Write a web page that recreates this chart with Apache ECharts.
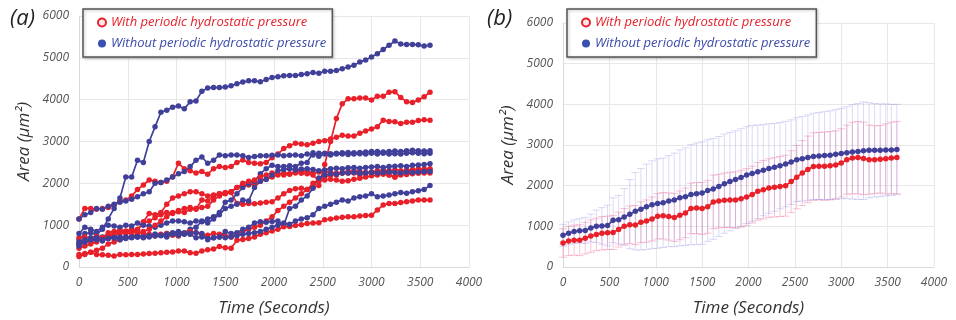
<!DOCTYPE html>
<html>
<head>
<meta charset="utf-8">
<script src="https://cdn.jsdelivr.net/npm/echarts@6/dist/echarts.min.js"></script>
<style>
  html, body { margin: 0; padding: 0; background: #fff; }
  #chart { width: 956px; height: 320px; }
</style>
</head>
<body>
<div id="chart"></div>
<script>
var RED = '#e8202a';
var BLUE = '#40409a';
var WITH = 'With periodic hydrostatic pressure';
var WITHOUT = 'Without periodic hydrostatic pressure';
var FONT = '"Open Sans", "Noto Sans", sans-serif';

var times = [0, 60, 120, 180, 240, 300, 360, 420, 480, 540, 600,
    660, 720, 780, 840, 900, 960, 1020, 1080, 1140, 1200,
    1260, 1320, 1380, 1440, 1500, 1560, 1620, 1680, 1740, 1800,
    1860, 1920, 1980, 2040, 2100, 2160, 2220, 2280, 2340, 2400,
    2460, 2520, 2580, 2640, 2700, 2760, 2820, 2880, 2940, 3000,
    3060, 3120, 3180, 3240, 3300, 3360, 3420, 3480, 3540, 3600];

// (a) individual cells, with pressure
var red1 = [550, 600, 620, 650, 700, 720, 760, 800, 850, 870, 900,
    1050, 1100, 1180, 1250, 1300, 1280, 1350, 1400, 1420, 1380,
    1600, 1580, 1700, 1750, 1760, 1780, 1520, 1500, 1520, 1510,
    1530, 1550, 1560, 1650, 1750, 1830, 1870, 1880, 1850, 1900,
    1950, 2450, 3000, 3550, 3900, 4020, 4020, 4040, 4040, 3990,
    4080, 4080, 4180, 4190, 4050, 3950, 3930, 3990, 4070, 4180];
var red2 = [1150, 1400, 1400, 1380, 1400, 1420, 1480, 1580, 1600, 1700, 1850,
    1960, 2080, 2050, 2020, 2050, 2160, 2480, 2350, 2300, 2250,
    2280, 2220, 2350, 2400, 2380, 2400, 2500, 2560, 2500, 2480,
    2470, 2500, 2610, 2700, 2830, 2900, 2960, 2940, 2920, 2960,
    3000, 3020, 3060, 3100, 3150, 3130, 3130, 3200, 3250, 3300,
    3350, 3510, 3480, 3470, 3430, 3460, 3460, 3500, 3520, 3510];
var red3 = [700, 720, 680, 750, 700, 820, 850, 880, 860, 900, 880,
    1080, 1280, 1250, 1300, 1500, 1650, 1700, 1750, 1800, 1800,
    1750, 1700, 1720, 1750, 1780, 1800, 1900, 1950, 1960, 1980,
    2050, 2100, 2150, 2200, 2250, 2230, 2280, 2300, 2280, 2250,
    2270, 2280, 2260, 2240, 2250, 2280, 2300, 2280, 2260, 2270,
    2300, 2310, 2300, 2320, 2300, 2310, 2330, 2340, 2340, 2350];
var red4 = [250, 300, 350, 400, 450, 550, 600, 650, 700, 720, 800,
    850, 900, 1000, 1100, 1200, 1300, 1320, 1300, 1380, 1400,
    1420, 1450, 1600, 1700, 1750, 1800, 1900, 2000, 2050, 2080,
    2150, 2200, 2250, 2230, 2200, 2220, 2250, 2240, 2230, 2200,
    2050, 2080, 2100, 2080, 2050, 2060, 2100, 2120, 2150, 2180,
    2200, 2220, 2200, 2150, 2200, 2210, 2230, 2240, 2250, 2250];
var red5 = [450, 500, 550, 600, 700, 750, 800, 850, 800, 820, 850,
    800, 780, 750, 780, 800, 760, 740, 800, 850, 820,
    780, 760, 800, 780, 750, 720, 800, 850, 900, 950,
    1000, 1100, 1200, 1350, 1450, 1550, 1650, 1750, 1850, 2000,
    2100, 2150, 2200, 2200, 2250, 2250, 2250, 2200, 2250, 2250,
    2260, 2250, 2200, 2150, 2260, 2280, 2300, 2300, 2300, 2320];
var red6 = [300, 320, 350, 300, 290, 280, 260, 300, 290, 300, 300,
    310, 320, 330, 340, 350, 360, 380, 380, 340, 330,
    380, 410, 430, 490, 460, 450, 640, 660, 680, 720,
    780, 820, 860, 900, 960, 970, 990, 1010, 1040, 1050,
    1060, 1130, 1150, 1170, 1190, 1200, 1200, 1220, 1230, 1240,
    1360, 1480, 1520, 1520, 1540, 1560, 1580, 1600, 1600, 1600];

// (a) individual cells, without pressure
var blue1 = [650, 800, 820, 780, 900, 1150, 1400, 1650, 2150, 2150, 2550,
    2500, 3000, 3350, 3700, 3750, 3820, 3850, 3780, 3950, 3970,
    4200, 4280, 4290, 4290, 4300, 4330, 4380, 4420, 4450, 4450,
    4430, 4480, 4530, 4550, 4570, 4580, 4580, 4600, 4620, 4650,
    4630, 4680, 4680, 4700, 4740, 4780, 4820, 4900, 4950, 5020,
    5100, 5200, 5300, 5400, 5330, 5320, 5320, 5310, 5280, 5300];
var blue2 = [1150, 1250, 1300, 1400, 1380, 1450, 1500, 1550, 1580, 1620, 1680,
    1750, 1800, 2000, 2020, 2080, 2150, 2230, 2280, 2400, 2550,
    2630, 2480, 2550, 2680, 2660, 2680, 2680, 2660, 2620, 2640,
    2660, 2660, 2670, 2680, 2660, 2670, 2680, 2660, 2700, 2680,
    2720, 2720, 2710, 2720, 2730, 2740, 2730, 2740, 2750, 2760,
    2760, 2750, 2760, 2770, 2760, 2780, 2790, 2780, 2770, 2780];
var blue3 = [800, 950, 900, 850, 950, 1000, 980, 950, 1000, 980, 1050,
    1000, 980, 950, 1000, 1050, 1100, 1100, 1080, 1050, 1100,
    1080, 1150, 1200, 1300, 1550, 1600, 1750, 1900, 1990, 2050,
    2230, 2350, 2430, 2400, 2400, 2420, 2400, 2480, 2500, 2730,
    2650, 2700, 2680, 2700, 2700, 2690, 2700, 2710, 2700, 2720,
    2700, 2720, 2700, 2710, 2700, 2720, 2730, 2720, 2710, 2720];
var blue4 = [600, 650, 700, 680, 720, 700, 700, 720, 700, 730, 720,
    750, 740, 780, 760, 800, 820, 850, 820, 900, 950,
    1100, 1050, 1150, 1250, 1400, 1450, 1500, 1600, 1580, 1900,
    2050, 2100, 2200, 2300, 2330, 2350, 2320, 2340, 2350, 2330,
    2300, 2320, 2350, 2360, 2350, 2370, 2380, 2360, 2380, 2390,
    2400, 2380, 2400, 2410, 2420, 2400, 2430, 2440, 2450, 2470];
var blue5 = [550, 600, 650, 650, 620, 680, 700, 700, 720, 710, 730,
    720, 750, 780, 760, 780, 800, 820, 800, 780, 700,
    720, 680, 700, 720, 850, 800, 820, 900, 950, 1050,
    1080, 1070, 1090, 1100, 1000, 1400, 1450, 1600, 1700, 1880,
    2130, 2200, 2230, 2220, 2250, 2250, 2260, 2240, 2250, 2260,
    2250, 2260, 2270, 2260, 2250, 2270, 2260, 2270, 2280, 2280];
var blue6 = [500, 600, 650, 700, 650, 680, 700, 650, 680, 700, 720,
    700, 720, 740, 750, 720, 780, 760, 780, 800, 820,
    800, 650, 700, 720, 700, 720, 750, 780, 800, 820,
    850, 900, 950, 1000, 1050, 1020, 1100, 1150, 1180, 1250,
    1400, 1450, 1500, 1550, 1600, 1580, 1650, 1680, 1700, 1750,
    1680, 1700, 1720, 1750, 1780, 1760, 1800, 1820, 1850, 1950];

// (b) mean and standard deviation
var redMean = [590, 640, 660, 660, 710, 760, 800, 830, 840, 850, 920,
    1000, 1040, 1030, 1100, 1130, 1180, 1250, 1260, 1240, 1220,
    1270, 1330, 1440, 1450, 1440, 1480, 1600, 1620, 1640, 1650,
    1650, 1680, 1720, 1780, 1860, 1900, 1940, 1960, 1980, 2000,
    2100, 2210, 2310, 2400, 2470, 2480, 2480, 2490, 2510, 2560,
    2640, 2680, 2690, 2670, 2640, 2640, 2650, 2660, 2680, 2690];
var redSd = [350, 360, 370, 380, 390, 400, 400, 410, 410, 420, 430,
    440, 460, 480, 500, 520, 540, 560, 570, 580, 590,
    600, 610, 620, 630, 640, 650, 660, 660, 670, 680,
    690, 700, 700, 700, 710, 720, 720, 730, 740, 750,
    760, 780, 800, 820, 830, 830, 840, 840, 840, 840,
    850, 880, 890, 890, 850, 830, 830, 860, 880, 890];
var blueMean = [780, 830, 870, 890, 900, 960, 1000, 1010, 1020, 1150, 1160,
    1230, 1300, 1370, 1420, 1480, 1530, 1560, 1580, 1620, 1650,
    1700, 1730, 1780, 1800, 1820, 1880, 1920, 1980, 2050, 2100,
    2150, 2200, 2260, 2300, 2340, 2380, 2420, 2450, 2490, 2530,
    2580, 2640, 2660, 2690, 2720, 2730, 2740, 2750, 2770, 2790,
    2810, 2830, 2840, 2860, 2870, 2870, 2870, 2880, 2880, 2890];
var blueSd = [270, 280, 290, 300, 320, 340, 400, 450, 500, 550, 600,
    700, 850, 950, 1000, 1050, 1080, 1100, 1100, 1120, 1150,
    1180, 1200, 1230, 1250, 1260, 1250, 1240, 1230, 1220, 1210,
    1200, 1200, 1190, 1180, 1150, 1120, 1100, 1080, 1060, 1050,
    1040, 1030, 1040, 1050, 1060, 1070, 1080, 1090, 1100, 1110,
    1130, 1160, 1180, 1200, 1170, 1150, 1140, 1130, 1120, 1110];

function pairs(vals) {
    return vals.map(function (v, i) { return [times[i], v]; });
}

function lineSeries(name, color, vals, idx) {
    return {
        name: name,
        type: 'line',
        xAxisIndex: idx,
        yAxisIndex: idx,
        data: pairs(vals),
        symbol: 'circle',
        symbolSize: 5.5,
        showSymbol: true,
        lineStyle: { color: color, width: 1.7 },
        itemStyle: { color: color },
        emphasis: { disabled: true },
        animation: false
    };
}

function errorSeries(color, mean, sd) {
    return {
        type: 'custom',
        xAxisIndex: 1,
        yAxisIndex: 1,
        data: mean.map(function (m, i) { return [times[i], m, sd[i]]; }),
        renderItem: function (params, api) {
            var t = api.value(0), m = api.value(1), s = api.value(2);
            var hi = api.coord([t, m + s]);
            var lo = api.coord([t, m - s]);
            var w = 4;
            var st = { stroke: color, lineWidth: 1 };
            return {
                type: 'group',
                children: [
                    { type: 'line', shape: { x1: hi[0], y1: hi[1], x2: lo[0], y2: lo[1] }, style: st },
                    { type: 'line', shape: { x1: hi[0] - w, y1: hi[1], x2: hi[0] + w, y2: hi[1] }, style: st },
                    { type: 'line', shape: { x1: lo[0] - w, y1: lo[1], x2: lo[0] + w, y2: lo[1] }, style: st }
                ]
            };
        },
        z: 1,
        silent: true,
        animation: false
    };
}

function plain(v) { return String(v); }

function xAxis(idx) {
    return {
        type: 'value', gridIndex: idx, min: 0, max: 4000, interval: 500,
        name: 'Time (Seconds)', nameLocation: 'middle', nameGap: 33,
        nameTextStyle: { fontFamily: FONT, fontStyle: 'italic', fontSize: 17, color: '#333' },
        axisLine: { lineStyle: { color: '#d9d9d9' } },
        axisTick: { show: false },
        axisLabel: { fontFamily: FONT, fontStyle: 'italic', fontSize: 12, color: '#555', margin: 10, formatter: plain },
        splitLine: { show: true, lineStyle: { color: '#e8e8e8' } }
    };
}

function yAxis(idx) {
    return {
        type: 'value', gridIndex: idx, min: 0, max: 6000, interval: 1000,
        name: 'Area (μm²)', nameLocation: 'middle', nameGap: 46,
        nameTextStyle: { fontFamily: FONT, fontStyle: 'italic', fontSize: 17, color: '#333' },
        axisLine: { show: true, lineStyle: { color: '#d9d9d9' } },
        axisTick: { show: false },
        axisLabel: { fontFamily: FONT, fontStyle: 'italic', fontSize: 12, color: '#555', margin: 10, formatter: plain },
        splitLine: { show: true, lineStyle: { color: '#e8e8e8' } }
    };
}

function legendAt(left) {
    return {
        left: left, top: 9, orient: 'vertical',
        padding: [7, 6, 7, 14], itemGap: 8, itemWidth: 8, itemHeight: 8,
        backgroundColor: '#fff', borderColor: '#555', borderWidth: 1.5,
        shadowColor: 'rgba(0,0,0,0.25)', shadowBlur: 3, shadowOffsetX: 1, shadowOffsetY: 1,
        selectedMode: false,
        textStyle: { fontFamily: FONT, fontStyle: 'italic', fontSize: 13 },
        data: [
            { name: WITH, icon: 'circle', itemStyle: { color: '#fde8e8', borderColor: RED, borderWidth: 2 }, textStyle: { color: RED } },
            { name: WITHOUT, icon: 'circle', itemStyle: { color: '#3b4fb0' }, textStyle: { color: '#3b4aa8' } }
        ]
    };
}

var series = [
    lineSeries(WITH, RED, red1, 0),
    lineSeries(WITH, RED, red2, 0),
    lineSeries(WITHOUT, BLUE, blue1, 0),
    lineSeries(WITHOUT, BLUE, blue2, 0),
    lineSeries(WITH, RED, red3, 0),
    lineSeries(WITHOUT, BLUE, blue3, 0),
    lineSeries(WITH, RED, red4, 0),
    lineSeries(WITHOUT, BLUE, blue4, 0),
    lineSeries(WITH, RED, red5, 0),
    lineSeries(WITHOUT, BLUE, blue5, 0),
    lineSeries(WITH, RED, red6, 0),
    lineSeries(WITHOUT, BLUE, blue6, 0),
    errorSeries('rgba(236,70,120,0.32)', redMean, redSd),
    errorSeries('rgba(110,110,225,0.25)', blueMean, blueSd),
    lineSeries(WITH, RED, redMean, 1),
    lineSeries(WITHOUT, BLUE, blueMean, 1)
];

var myChart = echarts.init(document.getElementById('chart'), null, { renderer: 'canvas' });
var option = {
    backgroundColor: '#fff',
    animation: false,
    title: [
        { text: '(a)', left: 5, top: 3, textStyle: { fontFamily: FONT, fontStyle: 'italic', fontWeight: 'normal', fontSize: 22, color: '#222' } },
        { text: '(b)', left: 482, top: 3, textStyle: { fontFamily: FONT, fontStyle: 'italic', fontWeight: 'normal', fontSize: 22, color: '#222' } }
    ],
    grid: [
        { left: 79, right: 487, top: 16, bottom: 53, outerBoundsMode: 'none' },
        { left: 563, right: 22, top: 23, bottom: 53, outerBoundsMode: 'none' }
    ],
    xAxis: [xAxis(0), xAxis(1)],
    yAxis: [yAxis(0), yAxis(1)],
    legend: [legendAt(83), legendAt(567)],
    series: series
};
myChart.setOption(option);
</script>
</body>
</html>
